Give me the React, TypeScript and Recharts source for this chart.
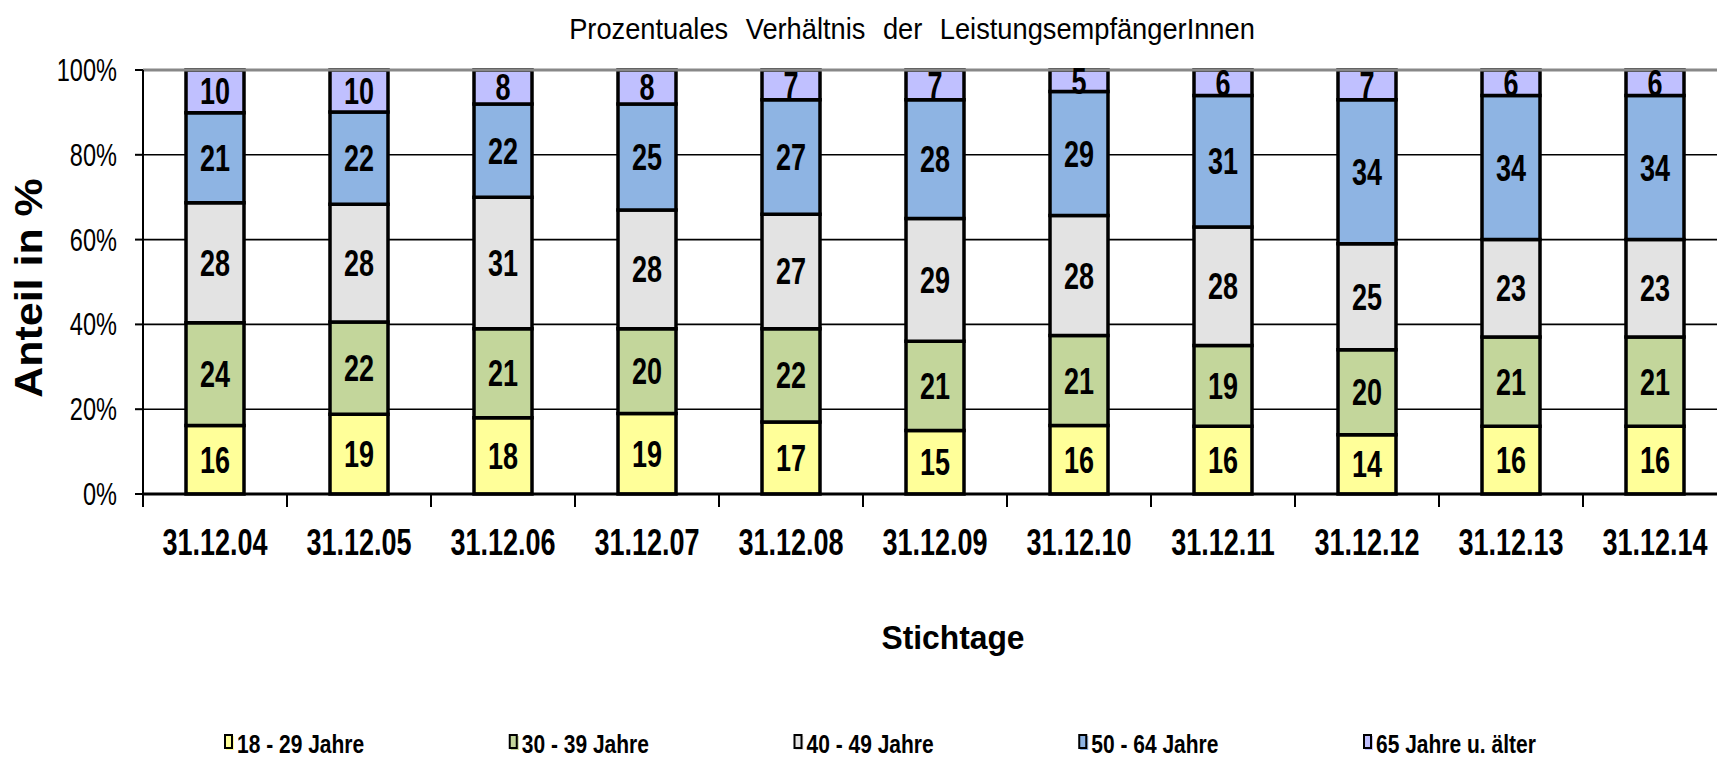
import React from "react";
import { BarChart, Bar, XAxis, YAxis, CartesianGrid, LabelList, ReferenceLine } from "recharts";

const stichtage = ["31.12.04", "31.12.05", "31.12.06", "31.12.07", "31.12.08", "31.12.09", "31.12.10", "31.12.11", "31.12.12", "31.12.13", "31.12.14"];
const jahre18bis29 = [16, 19, 18, 19, 17, 15, 16, 16, 14, 16, 16];
const jahre30bis39 = [24, 22, 21, 20, 22, 21, 21, 19, 20, 21, 21];
const jahre40bis49 = [28, 28, 31, 28, 27, 29, 28, 28, 25, 23, 23];
const jahre50bis64 = [21, 22, 22, 25, 27, 28, 29, 31, 34, 34, 34];
const jahre65plus = [10, 10, 8, 8, 7, 7, 5, 6, 7, 6, 6];
const yTicks = [0, 0.2, 0.4, 0.6, 0.8, 1];

const series = [
  { key: "a", name: "18 - 29 Jahre", values: jahre18bis29, color: "#FFFF99" },
  { key: "b", name: "30 - 39 Jahre", values: jahre30bis39, color: "#C3D69B" },
  { key: "c", name: "40 - 49 Jahre", values: jahre40bis49, color: "#E3E3E3" },
  { key: "d", name: "50 - 64 Jahre", values: jahre50bis64, color: "#8EB4E3" },
  { key: "e", name: "65 Jahre u. älter", values: jahre65plus, color: "#C0C0FF" },
];

const data = stichtage.map((d, i) => {
  const row: Record<string, string | number> = { date: d };
  series.forEach((s) => (row[s.key] = s.values[i]));
  return row;
});

// no narrow font installed, so Arial-like text gets squeezed with scaleX
const FONT = "'Liberation Sans', Arial, sans-serif";
const CHART_W = 1740;
const CHART_H = 757;
const Y_W = 143;
const M_R = 13;
const BAND = (CHART_W - Y_W - M_R) / stichtage.length;

function XTick(props: any) {
  const { x, y, payload } = props;
  return (
    <g>
      <line x1={x - BAND / 2} x2={x - BAND / 2} y1={y} y2={y + 13} stroke="#000" strokeWidth={2} />
      <text transform={`translate(${x},${y + 61}) scale(0.73,1)`} textAnchor="middle" fontFamily={FONT} fontWeight="bold" fontSize={37} fill="#000">
        {payload.value}
      </text>
    </g>
  );
}

function YTick(props: any) {
  const { x, y, payload } = props;
  return (
    <text transform={`translate(${x},${y + 11}) scale(0.76,1)`} textAnchor="end" fontFamily={FONT} fontSize={31} fill="#000">
      {`${Math.round(payload.value * 100)}%`}
    </text>
  );
}

function SegLabel(props: any) {
  const { x, y, width, height, value } = props;
  const cx = x + width / 2;
  const cy = y + height / 2;
  return (
    <text transform={`translate(${cx},${cy + 13}) scale(0.73,1)`} textAnchor="middle" fontFamily={FONT} fontWeight="bold" fontSize={37} fill="#000">
      {value}
    </text>
  );
}

export default function App() {
  return (
    <div style={{ position: "fixed", left: 0, top: 0, width: 1717, height: 757, overflow: "hidden", background: "#fff" }}>
      <BarChart
        width={CHART_W}
        height={CHART_H}
        data={data}
        stackOffset="expand"
        margin={{ top: 70, right: M_R, left: 0, bottom: 203 }}
        barSize={58}
      >
        <CartesianGrid vertical={false} stroke="#000" strokeWidth={1.6} />
        <XAxis
          dataKey="date"
          height={60}
          axisLine={{ stroke: "#000", strokeWidth: 3 }}
          tickLine={false}
          tickSize={0}
          tickMargin={0}
          tick={<XTick />}
          interval={0}
        />
        <YAxis
          type="number"
          domain={[0, 1]}
          ticks={yTicks}
          width={Y_W}
          tick={<YTick />}
          axisLine={{ stroke: "#000", strokeWidth: 2 }}
          tickLine={{ stroke: "#000", strokeWidth: 2 }}
          tickSize={8}
          tickMargin={18}
        />
        <ReferenceLine y={1} stroke="#888" strokeWidth={3} />
        {series.map((s) => (
          <Bar key={s.key} dataKey={s.key} name={s.name} stackId="x" fill={s.color} stroke="#000" strokeWidth={3.5} isAnimationActive={false}>
            <LabelList dataKey={s.key} content={<SegLabel />} />
          </Bar>
        ))}
      </BarChart>
      <svg width={1717} height={757} style={{ position: "absolute", left: 0, top: 0, pointerEvents: "none" }}>
        <text transform="translate(912,39) scale(0.94,1)" textAnchor="middle" fontFamily={FONT} fontSize={29} wordSpacing={10.6} fill="#000">
          Prozentuales Verhältnis der LeistungsempfängerInnen
        </text>
        <text transform="translate(42,288) rotate(-90) scale(1.13,1)" textAnchor="middle" fontFamily={FONT} fontWeight="bold" fontSize={38} fill="#000">
          Anteil in %
        </text>
        <text transform="translate(953,649) scale(0.935,1)" textAnchor="middle" fontFamily={FONT} fontWeight="bold" fontSize={34} fill="#000">
          Stichtage
        </text>
        {series.map((s, i) => {
          const lx = 224 + i * 284.75;
          return (
            <g key={s.key}>
              <rect x={lx + 2} y={736} width={8} height={14} fill={s.color} />
              <rect x={lx + 1} y={735} width={7} height={13} fill={s.color} stroke="#000" strokeWidth={2} />
              <text transform={`translate(${lx + 13},753) scale(0.84,1)`} fontFamily={FONT} fontWeight="bold" fontSize={25} fill="#000">
                {s.name}
              </text>
            </g>
          );
        })}
      </svg>
    </div>
  );
}
